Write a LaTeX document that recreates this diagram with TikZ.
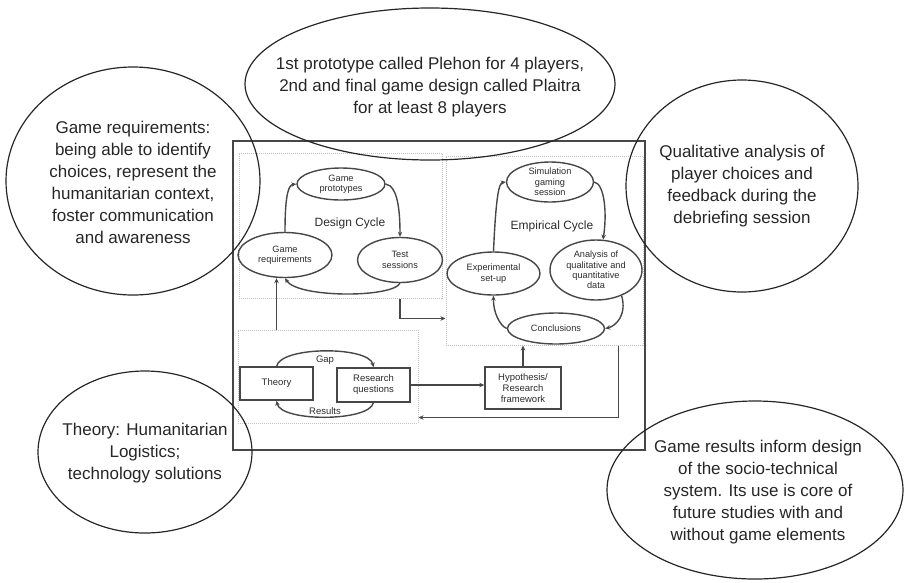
\documentclass[tikz,border=0pt]{standalone}
\usepackage{fontspec}
\setmainfont{Liberation Sans}
\usetikzlibrary{arrows.meta,positioning,shapes.geometric}
\definecolor{ink}{HTML}{474747}
\definecolor{bubbleink}{HTML}{262626}
\definecolor{grpgray}{HTML}{C2C2C2}

\begin{document}
\begin{tikzpicture}[x=1pt, y=-1pt,
  stage/.style={draw=ink, line width=1.4pt, ellipse, inner xsep=0pt, inner ysep=-1pt,
                align=center, font=\fontsize{9.2}{10.3}\selectfont, text=ink!60!black},
  block/.style={draw=ink, line width=1.4pt, rectangle, inner sep=0pt,
                align=center, font=\fontsize{9.5}{11}\selectfont, text=ink!60!black},
  group/.style={draw=grpgray, densely dotted, line width=1pt, rectangle, inner sep=0pt},
  arr/.style={-{Stealth[length=5pt,width=4.5pt]}, line width=1.4pt, draw=ink},
  lbl/.style={font=\fontsize{9.5}{11}\selectfont, text=ink!60!black, inner sep=1pt},
  cyc/.style={font=\fontsize{12}{14}\selectfont, text=ink!60!black},
  note/.style={align=center, font=\fontsize{17}{22}\selectfont, text=bubbleink},
  bubble/.style={draw=bubbleink, line width=1.2pt},
]
\useasboundingbox (0,0) rectangle (904,582);
% Frame and groups
\node[draw=ink, line width=2pt, minimum width=412, minimum height=309] (frame) at (439,295.5) {};
\node[group, minimum width=203, minimum height=145] (designbox) at (340.5,225.5) {};
\node[group, minimum width=197, minimum height=189] (empbox)    at (544.5,250.5) {};
\node[group, minimum width=180, minimum height=93]  (theorybox) at (328,376.5)   {};
% Design cycle
\node[stage, minimum width=88, minimum height=32] (proto)    at (341,184) {Game\\prototypes};
\node[stage, minimum width=94, minimum height=45] (req)      at (285,255) {Game\\requirements};
\node[stage, minimum width=85, minimum height=45] (test)     at (400,260) {Test\\sessions};
\node[cyc] (dlabel) at (350,223) {Design Cycle};
% Empirical cycle
\node[stage, minimum width=87, minimum height=40] (sim)      at (550,182) {Simulation\\gaming\\session};
\node[stage, minimum width=93, minimum height=43] (exp)      at (493.5,273.5) {Experimental\\set-up};
\node[stage, minimum width=92, minimum height=60] (ana)      at (596,270) {Analysis of\\qualitative and\\quantitative\\data};
\node[stage, minimum width=97, minimum height=31] (concl)    at (556,328.5) {Conclusions};
\node[cyc] (elabel) at (552,226) {Empirical Cycle};
% Theory part
\node[block, minimum width=73, minimum height=33] (theory)   at (276.5,383.5) {Theory};
\node[block, minimum width=73, minimum height=34] (research) at (373.5,385) {Research\\questions};
\node[block, minimum width=76, minimum height=42] (hypo)     at (523,388) {Hypothesis/\\Research\\framework};
% Arrows
\draw[arr] (req.north) .. controls (285,192) and (289,185) .. (proto.west);
\draw[arr] (proto.east) .. controls (398,186) and (400,212) .. (test.north);
\draw[arr] (test.south) .. controls (392,298) and (298,298) .. (req.south);
\draw[arr] (theory.center |- theorybox.north) -- (theory.center |- req.south);
\draw[arr] (test.south |- designbox.south) |- ([yshift=-20pt]designbox.south -| empbox.west);
\draw[arr] (exp.north) .. controls (496,195) and (499,183) .. (sim.west);
\draw[arr] (sim.east) .. controls (605,184) and (607,215) .. (ana.77);
\draw[arr] (ana.-45) .. controls (627,315) and (616,326) .. (concl.east);
\draw[arr] (concl.west) .. controls (500,326) and (493,312) .. (exp.south);
\draw[arr] (theory.north) .. controls (281,346) and (369,346) .. node[lbl, below=3pt] {Gap} (research.north);
\draw[arr] (research.south) .. controls (369,422) and (281,422) .. node[lbl, above=1pt] {Results} (theory.south);
\draw[arr] (research.east) -- (research.east -| hypo.west);
\draw[arr] (hypo.north) -- (hypo.north |- empbox.south);
\draw[arr] ([xshift=-25pt]empbox.south east) |- ([yshift=6pt]theorybox.south east);
% Bubbles
\node[note] (plaitra) at (430,87) {1st prototype called Plehon for 4 players,\\2nd and final game design called Plaitra\\for at least 8 players};
\draw[bubble] (430,84) ellipse [x radius=185, y radius=76];
\node[note] (needs) at (133,182) {Game requirements:\\being able to identify\\choices, represent the\\humanitarian context,\\foster communication\\and awareness};
\draw[bubble] (133,181) ellipse [x radius=127, y radius=114];
\node[note] (debrief) at (742,186) {Qualitative analysis of\\player choices and\\feedback during the\\debriefing session};
\draw[bubble] (742,186) ellipse [x radius=116, y radius=106];
\node[note] (logistics) at (145,453) {Theory: Humanitarian\\Logistics;\\technology solutions};
\draw[bubble] (145,452) ellipse [x radius=107, y radius=81];
\node[note] (outcome) at (758,492) {Game results inform design\\of the socio-technical\\system. Its use is core of\\future studies with and\\without game elements};
\draw[bubble] (755,490) ellipse [x radius=148, y radius=89];
\end{tikzpicture}
\end{document}
